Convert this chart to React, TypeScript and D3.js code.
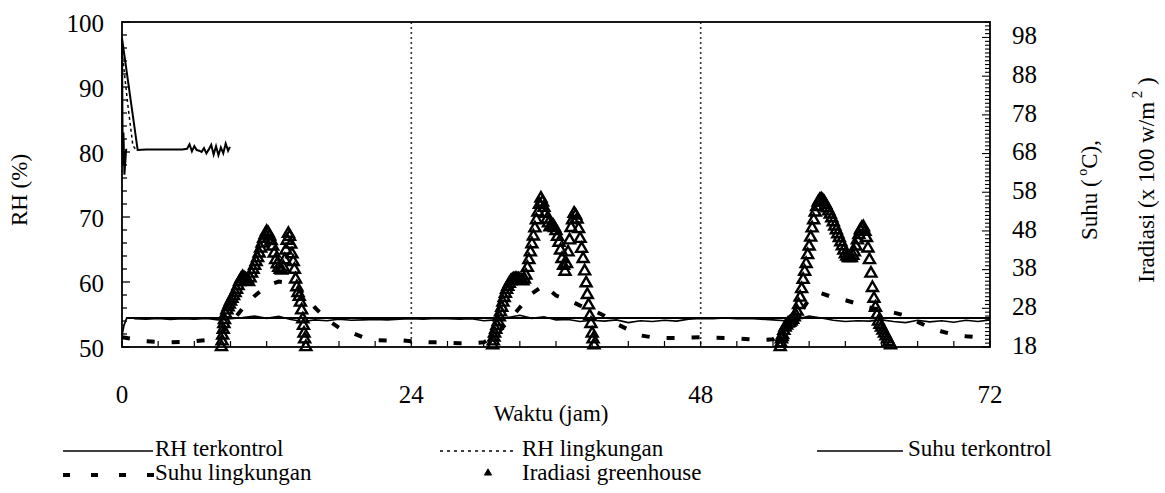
import React from 'react';
import * as d3 from 'd3';

// ---------- data ----------
const xTickLabels = [0, 24, 48, 72];
const leftTickLabels = [50, 60, 70, 80, 90, 100];
const rightTickLabels = [18, 28, 38, 48, 58, 68, 78, 88, 98];
const gridHours = [24, 48];

// RH terkontrol (%), left axis
const rhKontrolTime = [0.35, 0.2, 0.12, 0.06, 0, 1.3, 2, 3, 4, 5, 5.4, 5.6, 5.8, 6.0, 6.2, 6.4, 6.6, 6.8, 7.0, 7.2, 7.4, 7.6, 7.8, 8.0, 8.2, 8.4, 8.6, 8.8, 8.95];
const rhKontrolValue = [80.5, 76.5, 83, 78, 97.5, 80.3, 80.4, 80.4, 80.4, 80.4, 80.5, 81.2, 80.1, 80.9, 80.3, 80.2, 80.0, 80.6, 79.8, 80.4, 81.1, 79.6, 80.9, 79.5, 80.7, 79.8, 81.3, 80.2, 80.8];

// RH lingkungan (%), left axis
const rhLingkunganTime = [0, 0.5, 0.9, 1.1];
const rhLingkunganValue = [95.5, 87, 81, 80.5];

// Suhu terkontrol (°C), right axis
const suhuKontrolTime = [0, 0.15, 0.4, 72];
const suhuKontrolValue = [21, 23.5, 25.5, 25.5];
const suhuKontrolHourly = [
  25.3, 25.2, 25.4, 25.1, 25.3, 25.2, 25.4, 25.0, 25.3, 25.6, 26.0, 25.4, 25.9, 25.1, 24.6, 25.0, 24.8, 25.2,
  24.9, 25.0, 25.1, 25.0, 25.2, 25.3, 25.2, 25.4, 25.3, 25.2, 25.3, 24.8, 25.0, 25.6, 26.2, 25.4, 25.8, 25.0,
  25.1, 24.6, 24.9, 24.7, 25.0, 24.3, 24.8, 24.6, 24.9, 24.7, 25.2, 25.4, 25.3, 25.5, 25.3, 25.4, 25.2, 25.0,
  24.8, 25.2, 26.0, 25.5, 24.9, 24.6, 24.8, 24.7, 25.0, 24.6, 24.3, 24.9, 24.5, 24.8, 24.4, 24.9, 24.6, 25.0,
];
const suhuKontrolHourlyStart = 1;

// Suhu lingkungan (°C), right axis, hourly from t = 0
const suhuLingkungan = [
  20.5, 20, 19.5, 19.3, 19.2, 19.3, 19.5, 19.8, 21, 24, 28, 31.2, 33.8, 34.9, 34.6, 31.8, 28.2, 25.1, 23, 21.8,
  20.5, 19.8, 19.7, 19.8, 19.5, 19.3, 19.2, 19.1, 19, 19, 19.2, 21, 24.6, 28.2, 31.8, 34, 31.3, 30.2, 28.7, 27.6,
  26.1, 24, 22.5, 21, 20.5, 20.3, 20.3, 20.4, 20.5, 20.4, 20.3, 20.2, 20, 19.8, 20, 22, 25.7, 30.3, 31.9, 30.8,
  30.1, 29.2, 28.2, 27.5, 26.9, 26.1, 24.5, 23, 22, 21.2, 20.8, 20.5, 20.3,
];

// Iradiasi greenhouse (plotted on right axis units)
const iradiasiDay1Time = [
  8.25, 8.3, 8.35, 8.4, 8.45, 8.5, 8.6, 8.7, 8.8, 8.9, 9.0, 9.125, 9.25, 9.375, 9.5, 9.625, 9.75, 9.875, 10.0,
  10.125, 10.25, 10.375, 10.5, 10.625, 10.75, 10.875, 11.0, 11.125, 11.25, 11.375, 11.5, 11.625, 11.75, 11.875,
  12.0, 12.125, 12.25, 12.375, 12.5, 12.625, 12.75, 12.875, 13.0, 13.125, 13.25, 13.375, 13.5, 13.6, 13.7, 13.8,
  13.9, 14.0, 14.1, 14.2, 14.3, 14.4, 14.5, 14.6, 14.7, 14.8, 14.9, 15.0, 15.05, 15.1, 15.15, 15.25,
];
const iradiasiDay1Value = [
  18, 19.5, 21, 22.5, 24, 25, 26.5, 27.5, 28.3, 29, 29.8, 30.5, 31.2, 32, 32.8, 33.8, 34.8, 35.6, 36.1,
  35.8, 35.5, 35, 34.8, 35.8, 37, 38, 39, 40, 41, 42.2, 43.5, 44.8, 46, 47,
  47.8, 47.4, 46.6, 45.4, 44, 42.2, 40.5, 39.4, 38.5, 38, 37.8, 38.6, 40.5, 43, 45.5, 47.3,
  46.5, 44.5, 42, 40, 38, 35.5, 33.5, 32, 31, 29.5, 27.5, 25.2, 23.5, 21.5, 20, 18,
];
const iradiasiDay2Time = [
  30.75, 30.8, 30.85, 30.9, 31.0, 31.1, 31.2, 31.3, 31.4, 31.5, 31.6, 31.7, 31.8, 31.9, 32.0, 32.125, 32.25,
  32.375, 32.5, 32.625, 32.75, 32.875, 33.0, 33.125, 33.25, 33.375, 33.5, 33.625, 33.75, 33.875, 34.0, 34.125,
  34.25, 34.375, 34.5, 34.625, 34.75, 34.875, 35.0, 35.125, 35.25, 35.375, 35.5, 35.625, 35.75, 35.875, 36.0,
  36.125, 36.25, 36.375, 36.5, 36.625, 36.75, 36.875, 37.0, 37.125, 37.25, 37.375, 37.5, 37.625, 37.75, 37.875,
  38.0, 38.125, 38.25, 38.375, 38.5, 38.6, 38.7, 38.8, 38.9, 39.0, 39.075, 39.15,
];
const iradiasiDay2Value = [
  18.5, 19.5, 20.5, 21.5, 22.5, 23.5, 24.5, 25.7, 27, 28.2, 29.5, 30.7, 31.8, 32.8, 33.6, 34.4, 35,
  35.3, 35.5, 35.6, 35.6, 35.5, 35.4, 35.2, 35, 35.5, 36.5, 38.5, 40.5, 42.5, 44.6, 46.6,
  48.7, 50.8, 52.8, 54.8, 56.4, 55.4, 54, 52.5, 51, 50, 49, 49.2, 49.4, 48.8, 48,
  46.5, 45, 43, 40.8, 39, 37.5, 39.5, 42.5, 45.6, 48.8, 50.8, 52.5, 52, 51, 48.5,
  46, 43.4, 40.8, 37.6, 34.5, 31.5, 28.8, 26, 24, 21.5, 20, 18.5,
];
const iradiasiDay3Time = [
  54.6, 54.65, 54.7, 54.75, 54.8, 54.9, 55.0, 55.125, 55.25, 55.375, 55.5, 55.625, 55.75, 55.875, 56.0, 56.125,
  56.25, 56.375, 56.5, 56.625, 56.75, 56.875, 57.0, 57.125, 57.25, 57.375, 57.5, 57.625, 57.75, 57.875, 58.0,
  58.125, 58.25, 58.375, 58.5, 58.625, 58.75, 58.875, 59.0, 59.125, 59.25, 59.375, 59.5, 59.625, 59.75, 59.875,
  60.0, 60.125, 60.25, 60.375, 60.5, 60.625, 60.75, 60.875, 61.0, 61.125, 61.25, 61.375, 61.5, 61.625, 61.75,
  61.875, 62.0, 62.125, 62.25, 62.375, 62.5, 62.625, 62.75, 62.875, 63.0, 63.125, 63.25, 63.375, 63.5, 63.625, 63.75,
];
const iradiasiDay3Value = [
  18, 19, 20, 20.6, 21.1, 22.2, 23.1, 23.6, 24.1, 24.3, 24.6, 25.1, 25.7, 26.3, 27.2, 28.9,
  30.8, 33, 35.4, 37.5, 39.5, 41.8, 44, 46.3, 48.7, 50.8, 52.8, 54.2, 55.4, 56, 56.2,
  55.9, 55.4, 54.7, 53.9, 53.1, 52.3, 51.3, 50.3, 49.2, 48.2, 47.2, 46.2, 45.1, 44.1, 43,
  42, 41.4, 41, 41, 41, 41.6, 42.5, 44, 45.6, 47, 48.2, 48.8, 49, 47.8, 46.2,
  43.5, 40.5, 37, 33.3, 30.5, 28.2, 26.3, 24.6, 23.8, 23.1, 22.3, 21.5, 20.8, 20, 19.3, 18.5,
];

const legendRow1 = ['RH terkontrol', 'RH lingkungan', 'Suhu terkontrol'];
const legendRow2 = ['Suhu lingkungan', 'Iradiasi greenhouse'];

// ---------- layout ----------
const W = 1165;
const H = 493;
const M = { left: 122, right: 990, top: 22, bottom: 347 };
const FONT = '"Times New Roman", Times, "Liberation Serif", "Noto Serif", "DejaVu Serif", FreeSerif, serif';

export default function App() {
  const x = d3.scaleLinear().domain([0, 72]).range([M.left, M.right]);
  const yL = d3.scaleLinear().domain([50, 100]).range([M.bottom, M.top]);
  const yR = d3.scaleLinear().domain([18, 102]).range([M.bottom, M.top]);

  const lineL = d3.line<[number, number]>().x((d) => x(d[0])).y((d) => yL(d[1]));
  const lineR = d3.line<[number, number]>().x((d) => x(d[0])).y((d) => yR(d[1]));

  const zip = (t: number[], v: number[]) => t.map((tt, i) => [tt, v[i]] as [number, number]);

  const rhK = zip(rhKontrolTime, rhKontrolValue);
  const rhL = zip(rhLingkunganTime, rhLingkunganValue);
  const suhuK = zip(suhuKontrolTime, suhuKontrolValue);
  const suhuK2 = suhuKontrolHourly.map((v, i) => [i + suhuKontrolHourlyStart, v] as [number, number]);
  const suhuL = suhuLingkungan.map((v, i) => [i, v] as [number, number]);
  const irr = [
    ...zip(iradiasiDay1Time, iradiasiDay1Value),
    ...zip(iradiasiDay2Time, iradiasiDay2Value),
    ...zip(iradiasiDay3Time, iradiasiDay3Value),
  ];

  const tri = d3.symbol().type(d3.symbolTriangle).size(52)()!;
  const triLegend = d3.symbol().type(d3.symbolTriangle).size(22)()!;

  const leftMinor = d3.range(50, 100.01, 2);
  const rightMinor = d3.range(18, 102.01, 1);
  const xMinor = d3.range(0, 72.01, 3);

  const tickFont = 25;
  const labelFont = 23;

  const row1Y = 451;
  const row2Y = 475;

  return (
    <div style={{ position: 'absolute', left: 0, top: 0, width: W, height: H, background: '#fff', fontFamily: FONT }}>
      <svg width={W} height={H} style={{ display: 'block', fontFamily: FONT }}>
        <rect x={0} y={0} width={W} height={H} fill="#fff" />

        {/* vertical dotted grid lines */}
        {gridHours.map((g) => (
          <line key={g} x1={x(g)} x2={x(g)} y1={M.top} y2={M.bottom} stroke="#333" strokeWidth={1.6} strokeDasharray="2,3" />
        ))}

        {/* Suhu terkontrol */}
        <path d={lineR(suhuK)!} fill="none" stroke="#000" strokeWidth={1.8} />
        <path d={lineR(suhuK2)!} fill="none" stroke="#000" strokeWidth={1.6} />

        {/* Suhu lingkungan */}
        <path d={lineR(suhuL)!} fill="none" stroke="#000" strokeWidth={4} strokeDasharray="8,17" />

        {/* RH lingkungan */}
        <path d={lineL(rhL)!} fill="none" stroke="#000" strokeWidth={1.5} strokeDasharray="3,3" />

        {/* RH terkontrol */}
        <path d={lineL(rhK)!} fill="none" stroke="#000" strokeWidth={2} />

        {/* Iradiasi greenhouse */}
        {irr.map((d, i) => (
          <path key={i} d={tri} transform={`translate(${x(d[0])},${yR(d[1])})`} fill="none" stroke="#000" strokeWidth={2.4} />
        ))}

        {/* frame */}
        <rect x={M.left} y={M.top} width={M.right - M.left} height={M.bottom - M.top} fill="none" stroke="#000" strokeWidth={1.8} />

        {/* left axis ticks */}
        {leftMinor.map((v) => (
          <line key={'lm' + v} x1={M.left} x2={M.left + (v % 10 === 0 ? 8 : 5)} y1={yL(v)} y2={yL(v)} stroke="#000" strokeWidth={1.3} />
        ))}
        {leftTickLabels.map((v) => (
          <text key={'ll' + v} x={104} y={yL(v) + 4} textAnchor="end" dominantBaseline="middle" fontSize={tickFont}>
            {v}
          </text>
        ))}

        {/* right axis ticks */}
        {rightMinor.map((v) => (
          <line key={'rm' + v} x1={M.right} x2={M.right - ((v - 18) % 10 === 0 ? 8 : 5)} y1={yR(v)} y2={yR(v)} stroke="#000" strokeWidth={1.1} />
        ))}
        {rightTickLabels.map((v) => (
          <text key={'rl' + v} x={1012} y={yR(v) + 1} textAnchor="start" dominantBaseline="middle" fontSize={tickFont}>
            {v}
          </text>
        ))}

        {/* x axis ticks */}
        {xMinor.map((t) => (
          <line key={'xm' + t} x1={x(t)} x2={x(t)} y1={M.bottom} y2={M.bottom - 6} stroke="#000" strokeWidth={1.2} />
        ))}
        {xTickLabels.map((t) => (
          <text key={'xl' + t} x={x(t)} y={397} textAnchor="middle" dominantBaseline="middle" fontSize={tickFont}>
            {t}
          </text>
        ))}

        {/* axis titles */}
        <text x={551} y={416} textAnchor="middle" dominantBaseline="middle" fontSize={labelFont}>
          Waktu (jam)
        </text>
        <text transform="translate(22,190) rotate(-90)" textAnchor="middle" dominantBaseline="middle" fontSize={labelFont}>
          RH (%)
        </text>
        <text transform="translate(1097,190) rotate(-90)" textAnchor="middle" fontSize={labelFont}>
          Suhu (
          <tspan fontSize={14} dy={-10}> o</tspan>
          <tspan dy={10}>C),</tspan>
        </text>
        <text transform="translate(1154,180) rotate(-90)" textAnchor="middle" fontSize={labelFont}>
          Iradiasi (x 100 w/m
          <tspan fontSize={15} dy={-12}> 2</tspan>
          <tspan dy={12}> )</tspan>
        </text>

        {/* legend row 1 */}
        <line x1={63} x2={153} y1={row1Y} y2={row1Y} stroke="#000" strokeWidth={1.6} />
        <text x={155} y={row1Y} dominantBaseline="middle" fontSize={labelFont}>{legendRow1[0]}</text>
        <line x1={440} x2={517} y1={row1Y} y2={row1Y} stroke="#000" strokeWidth={1.5} strokeDasharray="3,4" />
        <text x={522} y={row1Y} dominantBaseline="middle" fontSize={labelFont}>{legendRow1[1]}</text>
        <line x1={817} x2={903} y1={row1Y} y2={row1Y} stroke="#000" strokeWidth={1.6} />
        <text x={908} y={row1Y} dominantBaseline="middle" fontSize={labelFont}>{legendRow1[2]}</text>

        {/* legend row 2 */}
        <line x1={63} x2={155} y1={row2Y} y2={row2Y} stroke="#000" strokeWidth={4} strokeDasharray="7,21" />
        <text x={155} y={row2Y} dominantBaseline="middle" fontSize={labelFont}>{legendRow2[0]}</text>
        <path d={triLegend} transform={`translate(488,${row2Y - 2})`} fill="#000" stroke="#000" strokeWidth={1} />
        <text x={522} y={row2Y} dominantBaseline="middle" fontSize={labelFont}>{legendRow2[1]}</text>
      </svg>
    </div>
  );
}
